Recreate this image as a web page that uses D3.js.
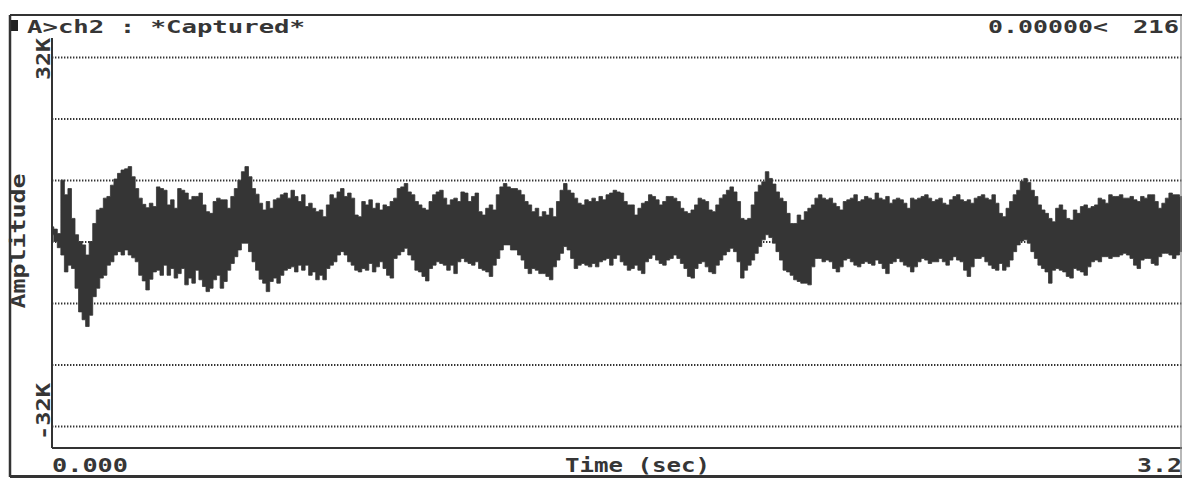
<!DOCTYPE html>
<html>
<head>
<meta charset="utf-8">
<script src="https://cdn.jsdelivr.net/npm/d3@7"></script>
<style>
  html, body { margin: 0; padding: 0; background: #fff; overflow: hidden; }
  svg { display: block; }
  text { font-family: "DejaVu Sans Mono", monospace; font-weight: bold; fill: #363636; }
</style>
</head>
<body>
<svg id="chart" width="1182" height="478"></svg>
<script>
// capture: 65536 samples at 20 kHz, shown as min/max per 0.01 s block
const tMax = 3.2768;
const dt = 0.01;
const ampMax = 32768;

const title = "A>ch2 : *Captured*";
const cursorText = "0.00000<";
const cursorValue = "216";
const xLabel = "Time (sec)";
const yLabel = "Amplitude";
const xTickLabels = ["0.000", "3.277"];
const yTickLabels = ["32K", "-32K"];

// upper envelope (block max)
const hi = [
  2600, 2200, 1400, 10900, 8300, 9400, 4100, 1200, 0, -600,
  -2400, 0, 3200, 5600, 5900, 7700, 8000, 10000, 11100, 12100,
  12700, 12900, 13300, 11500, 9400, 7700, 6600, 6000, 6800, 6200,
  9700, 9400, 9100, 6500, 7400, 5900, 9400, 9100, 8600, 7400,
  8000, 8000, 8600, 6500, 5300, 5000, 7100, 7700, 7400, 7400,
  5900, 8000, 9400, 10900, 12400, 13300, 11500, 9400, 8400, 6800,
  5600, 7100, 5900, 7400, 7700, 8300, 8600, 7700, 9100, 8000,
  7100, 8300, 6200, 6800, 5900, 5300, 5600, 4400, 6500, 8300,
  7700, 8800, 9400, 8000, 8600, 7700, 4700, 4400, 7100, 6500,
  7400, 5900, 6800, 5600, 6500, 6200, 7100, 7700, 9400, 9700,
  10300, 8800, 8300, 7100, 6500, 5900, 5600, 7100, 8300, 8800,
  9100, 7700, 6500, 7400, 7700, 7100, 8800, 8600, 7100, 8000,
  8600, 5300, 4700, 5900, 6500, 5600, 8300, 9700, 10300, 9700,
  9400, 9400, 9100, 8300, 7100, 6500, 5300, 5900, 4400, 5300,
  4700, 5900, 4400, 7100, 9100, 10300, 9100, 8600, 7700, 6800,
  6500, 7400, 7100, 7700, 7100, 8000, 7400, 8300, 8600, 9100,
  8800, 8600, 7100, 6500, 6500, 4700, 5900, 6800, 7100, 8300,
  8000, 7400, 6500, 7100, 8000, 8000, 7700, 7100, 5900, 5300,
  5000, 5600, 6500, 7700, 7400, 7100, 5600, 5300, 6500, 7700,
  8300, 9100, 9700, 8800, 7100, 4100, 3800, 4100, 6500, 8800,
  10000, 10600, 12400, 11200, 10200, 8800, 7700, 7100, 5000, 3200,
  3200, 4700, 3800, 5300, 5900, 6500, 7700, 8300, 7700, 7400,
  7700, 6800, 6200, 5600, 7100, 7400, 7700, 8300, 7100, 7400,
  8000, 7700, 7400, 8600, 7700, 7400, 8000, 6800, 7400, 7700,
  7400, 6800, 5900, 7700, 7400, 7700, 8000, 8300, 7700, 7100,
  7400, 7700, 6800, 6500, 7400, 8000, 8300, 7400, 7100, 7400,
  6800, 7700, 8000, 8300, 7700, 7400, 8300, 6800, 5000, 4400,
  5900, 7100, 8300, 9100, 10700, 11200, 10500, 9100, 8000, 6500,
  5600, 5000, 4100, 3500, 5900, 6500, 5600, 4100, 3800, 5600,
  5000, 6200, 6500, 5900, 6200, 6500, 7700, 7400, 6800, 8300,
  8000, 8000, 8300, 7700, 7700, 8000, 7400, 7100, 8000, 7700,
  8300, 8300, 7100, 5900, 6800, 7700, 8600, 8300, 8300, 8000,
  7700
];

// lower envelope (block min)
const lo = [
  1200, 0, -1100, -2400, -5400, -4200, -4800, -8300, -12500, -13900,
  -15100, -13100, -9800, -8300, -6500, -6000, -4200, -3600, -2400, -1800,
  -2400, -1500, -2400, -2900, -3600, -6000, -7000, -8600, -6700, -5400,
  -5100, -6000, -4200, -6000, -4800, -6500, -5700, -4800, -7700, -6500,
  -7400, -5100, -6800, -8000, -8900, -8300, -6800, -6000, -8300, -7100,
  -5100, -3900, -2700, -1500, -300, -300, -1800, -3600, -5100, -6700,
  -7400, -8900, -7100, -6500, -7400, -6000, -5100, -4800, -4500, -5400,
  -4200, -5100, -4200, -6000, -5400, -6800, -6000, -6800, -4800, -4200,
  -3600, -2400, -1800, -2400, -3600, -4200, -5100, -5400, -4800, -5100,
  -3900, -5400, -4500, -3600, -4800, -6000, -6500, -3000, -2400, -1800,
  -1200, -2400, -3300, -5100, -5400, -6200, -7000, -4800, -4200, -3600,
  -3900, -4200, -5100, -4200, -5700, -3600, -3000, -3600, -3900, -4200,
  -3600, -4800, -5100, -5400, -6200, -4200, -3000, -1500, -600, -600,
  -1500, -1500, -2400, -3300, -4800, -5700, -4800, -5100, -5700, -5700,
  -6200, -6800, -4500, -3300, -2100, -900, -1500, -3000, -4800, -4200,
  -3900, -4200, -4500, -3900, -4500, -3600, -3300, -3000, -4200, -3000,
  -2400, -3600, -4200, -5100, -4800, -4200, -5100, -5700, -3600, -3000,
  -2400, -3300, -3900, -4200, -3300, -3000, -2400, -3000, -3900, -4800,
  -6200, -6500, -4800, -3900, -3600, -4500, -5400, -5700, -4200, -3300,
  -2400, -1800, -1200, -1800, -3600, -6500, -5100, -4200, -3300, -2100,
  -900, 300, 1200, 700, -300, -1800, -3300, -5100, -5400, -6000,
  -6800, -7100, -7400, -7400, -7700, -4500, -3000, -3000, -3600, -3300,
  -3600, -4800, -5400, -4500, -3300, -3000, -3600, -4200, -4500, -3900,
  -3600, -3900, -4200, -3300, -3900, -4800, -5700, -3900, -3600, -3000,
  -3600, -4200, -4500, -5400, -4500, -3600, -3000, -3300, -3900, -3600,
  -3600, -3000, -3600, -4200, -3300, -2700, -3300, -3600, -5100, -6200,
  -4500, -3000, -3000, -2700, -3600, -4200, -4800, -5100, -3900, -5100,
  -4500, -3300, -1800, -600, 100, 300, -300, -1800, -3000, -4200,
  -4800, -5400, -7400, -5100, -4800, -5100, -5400, -6200, -6500, -4800,
  -5100, -5400, -6000, -4500, -3600, -3300, -3600, -2700, -2700, -3000,
  -2700, -2700, -2400, -2100, -2400, -3000, -4200, -4800, -3300, -3000,
  -3000, -3900, -4200, -2700, -2100, -2100, -2400, -3000, -2400, -1800,
  -2400
];

const svg = d3.select('#chart');
const W = 1182, H = 478;

svg.append('rect').attr('width', W).attr('height', H).attr('fill', '#fff');

const x = d3.scaleLinear().domain([0, tMax]).range([52, 1212]);
const y = d3.scaleLinear().domain([-ampMax, ampMax]).range([426, 57]);

const ink = '#333';

// dotted grid, 3 divisions each side of zero
const gridVals = d3.range(-3, 4).map(k => k * ampMax / 3);
const grid = svg.append('g')
  .attr('transform', `translate(${x(0)},0)`)
  .call(d3.axisLeft(y).tickValues(gridVals).tickSize(-(W - x(0))).tickFormat(''));
grid.select('.domain').remove();
grid.selectAll('.tick line')
  .attr('stroke', '#333')
  .attr('stroke-width', 1.8)
  .attr('stroke-dasharray', '1.4,1.6');

// waveform band
const times = d3.range(hi.length).map(i => i * dt);
const area = d3.area()
  .x((d, i) => x(times[i]))
  .y0((d, i) => y(lo[i]))
  .y1((d, i) => y(hi[i]))
  .curve(d3.curveStep);

svg.append('path')
  .datum(hi)
  .attr('d', area)
  .attr('fill', '#353535')
  .attr('stroke', '#353535')
  .attr('stroke-width', 0.8);

// plot axes
svg.append('line')
  .attr('x1', x(0)).attr('x2', x(0))
  .attr('y1', 38).attr('y2', 448)
  .attr('stroke', ink).attr('stroke-width', 2);
svg.append('line')
  .attr('x1', x(0)).attr('x2', W)
  .attr('y1', 448).attr('y2', 448)
  .attr('stroke', ink).attr('stroke-width', 2);
svg.append('line')
  .attr('x1', 1181).attr('x2', 1181)
  .attr('y1', 15).attr('y2', 476)
  .attr('stroke', '#888').attr('stroke-width', 1.2);

// header texts
svg.append('rect')
  .attr('x', 10).attr('y', 20).attr('width', 8).attr('height', 11)
  .attr('fill', '#222');
svg.append('text')
  .attr('x', 27).attr('y', 33)
  .attr('font-size', 18)
  .attr('textLength', 278).attr('lengthAdjust', 'spacingAndGlyphs')
  .text(title);
svg.append('text')
  .attr('x', 988).attr('y', 33)
  .attr('font-size', 18)
  .attr('textLength', 120).attr('lengthAdjust', 'spacingAndGlyphs')
  .text(cursorText);
svg.append('text')
  .attr('x', 1133).attr('y', 33)
  .attr('font-size', 18)
  .attr('textLength', 46).attr('lengthAdjust', 'spacingAndGlyphs')
  .text(cursorValue);

// outer frame
svg.append('line')
  .attr('x1', 10).attr('x2', W).attr('y1', 15).attr('y2', 15)
  .attr('stroke', ink).attr('stroke-width', 2);
svg.append('line')
  .attr('x1', 10).attr('x2', 10).attr('y1', 15).attr('y2', 477)
  .attr('stroke', ink).attr('stroke-width', 2.5);
svg.append('line')
  .attr('x1', 10).attr('x2', W).attr('y1', 476.5).attr('y2', 476.5)
  .attr('stroke', ink).attr('stroke-width', 3);

// y tick labels (rotated)
svg.append('text')
  .attr('transform', `translate(50,${y(ampMax) + 23}) rotate(-90)`)
  .attr('font-size', 20)
  .attr('textLength', 42).attr('lengthAdjust', 'spacingAndGlyphs')
  .text(yTickLabels[0]);
svg.append('text')
  .attr('transform', `translate(50,${y(-ampMax) + 14}) rotate(-90)`)
  .attr('font-size', 20)
  .attr('textLength', 57).attr('lengthAdjust', 'spacingAndGlyphs')
  .text(yTickLabels[1]);
svg.append('text')
  .attr('transform', `translate(25,${y(0) + 67}) rotate(-90)`)
  .attr('font-size', 20)
  .attr('textLength', 135).attr('lengthAdjust', 'spacingAndGlyphs')
  .text(yLabel);

// x tick labels and title (end label runs past the right edge, as captured)
svg.append('text')
  .attr('x', x(0)).attr('y', 472)
  .attr('font-size', 19)
  .attr('textLength', 76).attr('lengthAdjust', 'spacingAndGlyphs')
  .text(xTickLabels[0]);
svg.append('text')
  .attr('x', x(tMax) - 75).attr('y', 472)
  .attr('font-size', 19)
  .attr('textLength', 75).attr('lengthAdjust', 'spacingAndGlyphs')
  .text(xTickLabels[1]);
svg.append('text')
  .attr('x', (x(0) + x(tMax)) / 2 - 67).attr('y', 472)
  .attr('font-size', 19)
  .attr('textLength', 145).attr('lengthAdjust', 'spacingAndGlyphs')
  .text(xLabel);
</script>
</body>
</html>
